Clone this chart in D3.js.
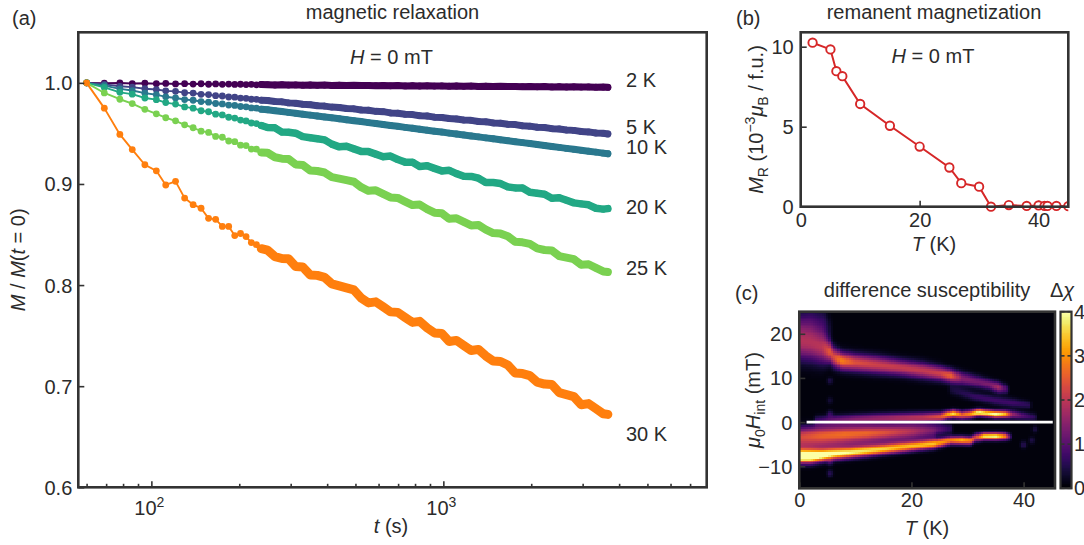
<!DOCTYPE html>
<html><head><meta charset="utf-8">
<script src="https://cdn.jsdelivr.net/npm/d3@7"></script>
<style>
body{margin:0;background:#fff;}
svg{display:block;}
text{white-space:pre;}
</style></head><body>
<svg id="chart" width="1084" height="545"></svg>
<script>
// ---------------- data: panel (a) magnetic relaxation ----------------
const times = [60,69,78,86,95,104,112,121,130,139,148,157,166,175,184,193,202,211,220,229,238,
  250,265,280,295,312,330,350,370,392,415,440,466,494,523,554,587,622,659,698,740,784,830,880,932,988,
  1047,1109,1175,1245,1319,1398,1481,1569,1663,1762,1867,1978,2096,2221,2353,2493,2642,2799,2966,3143,3330,3528,3660];
const m2K = [1.0000,0.9996,0.9999,0.9993,0.9996,0.9991,0.9994,0.9989,0.9992,0.9988,0.9991,0.9986,0.9989,0.9985,0.9988,0.9984,0.9986,0.9983,0.9985,0.9981,0.9984,
  0.9982,0.9979,0.9982,0.9978,0.9980,0.9977,0.9979,0.9976,0.9978,0.9975,0.9977,0.9974,0.9976,0.9973,0.9975,0.9972,0.9974,0.9971,0.9973,0.9970,
  0.9972,0.9969,0.9971,0.9968,0.9970,0.9967,0.9969,0.9966,0.9968,0.9965,0.9967,0.9964,0.9966,0.9963,0.9965,0.9962,0.9964,0.9961,0.9963,0.9960,
  0.9962,0.9959,0.9961,0.9958,0.9960,0.9957,0.9958,0.9956];
const m5K = [1.0000,0.9985,0.9966,0.9958,0.9942,0.9934,0.9921,0.9916,0.9903,0.9899,0.9887,0.9884,0.9873,0.9870,0.9860,0.9858,0.9849,0.9847,0.9838,0.9837,0.9829,
  0.9826,0.9815,0.9812,0.9802,0.9798,0.9788,0.9784,0.9774,0.9770,0.9760,0.9757,0.9746,0.9743,0.9732,0.9729,0.9718,0.9715,0.9703,0.9700,0.9689,
  0.9686,0.9675,0.9672,0.9661,0.9658,0.9647,0.9643,0.9632,0.9629,0.9618,0.9615,0.9604,0.9601,0.9590,0.9587,0.9575,0.9572,0.9561,0.9558,0.9547,
  0.9544,0.9533,0.9530,0.9519,0.9515,0.9504,0.9501,0.9495];
const m10K = [1.0000,0.9972,0.9941,0.9924,0.9898,0.9883,0.9862,0.9850,0.9835,0.9828,0.9815,0.9809,0.9796,0.9792,0.9780,0.9777,0.9766,0.9763,0.9752,0.9750,0.9740,
  0.9734,0.9725,0.9716,0.9708,0.9699,0.9690,0.9681,0.9672,0.9663,0.9654,0.9645,0.9635,0.9626,0.9617,0.9607,0.9598,0.9588,0.9579,0.9570,0.9560,
  0.9551,0.9541,0.9532,0.9522,0.9513,0.9503,0.9494,0.9485,0.9475,0.9466,0.9456,0.9447,0.9437,0.9428,0.9418,0.9409,0.9400,0.9390,0.9381,0.9371,
  0.9362,0.9352,0.9343,0.9333,0.9324,0.9315,0.9305,0.9299];
const m20K = [1.0000,0.9955,0.9906,0.9888,0.9850,0.9834,0.9805,0.9790,0.9762,0.9750,0.9724,0.9714,0.9690,0.9683,0.9660,0.9652,0.9632,0.9623,0.9603,0.9597,0.9578,
  0.9558,0.9555,0.9513,0.9512,0.9502,0.9468,0.9457,0.9447,0.9436,0.9394,0.9367,0.9373,0.9347,0.9322,0.9320,0.9295,0.9269,0.9276,0.9242,0.9216,
  0.9215,0.9173,0.9180,0.9154,0.9129,0.9135,0.9102,0.9076,0.9075,0.9057,0.9015,0.9014,0.9004,0.8971,0.8961,0.8960,0.8918,0.8909,0.8899,0.8858,
  0.8864,0.8839,0.8813,0.8803,0.8794,0.8760,0.8751,0.8756];
const m25K = [1.0000,0.9900,0.9838,0.9795,0.9738,0.9694,0.9655,0.9624,0.9585,0.9556,0.9522,0.9510,0.9470,0.9462,0.9425,0.9418,0.9384,0.9380,0.9345,0.9344,0.9312,
  0.9309,0.9264,0.9250,0.9247,0.9193,0.9188,0.9133,0.9128,0.9113,0.9068,0.9053,0.9038,0.9022,0.8968,0.8932,0.8937,0.8902,0.8867,0.8862,0.8826,
  0.8791,0.8796,0.8751,0.8716,0.8710,0.8655,0.8660,0.8625,0.8590,0.8594,0.8549,0.8514,0.8509,0.8483,0.8428,0.8423,0.8408,0.8363,0.8347,0.8342,
  0.8287,0.8271,0.8256,0.8201,0.8206,0.8170,0.8135,0.8129];
const m30K = [1.000,0.975,0.949,0.934,0.919,0.913,0.899,0.9026,0.886,0.8795,0.876,0.866,0.865,0.858,0.858,0.849,0.851,0.848,0.842,0.840,0.836,
  0.8345,0.8281,0.8263,0.8261,0.8183,0.8179,0.8099,0.8096,0.8076,0.8012,0.7992,0.7972,0.7952,0.7873,0.7824,0.7834,0.7785,0.7735,0.7730,0.7680,
  0.7631,0.7641,0.7577,0.7527,0.7522,0.7442,0.7453,0.7403,0.7353,0.7364,0.7299,0.7249,0.7244,0.7209,0.7130,0.7125,0.7105,0.7041,0.7021,0.7016,
  0.6937,0.6917,0.6897,0.6817,0.6828,0.6778,0.6728,0.6721];
const seriesNames = ["2 K","5 K","10 K","20 K","25 K","30 K"];
const seriesColors = ["#440154","#414487","#2a788e","#22a884","#7ad151","#ff7f0e"];
const yTicksA = [0.6,0.7,0.8,0.9,1.0];
const xMajorA = [100,1000];
const xMinorA = [60,70,80,90,200,300,400,500,600,700,800,900,2000,3000,4000,5000,6000,7000];

// ---------------- data: panel (b) remanent magnetization ----------------
const mrT = [2,5,6,7,10,15,20,25,27,30,32,35,38,40,41,41.5,43,45];
const mrV = [10.25,9.83,8.47,8.16,6.42,5.06,3.76,2.45,1.47,1.25,0.0,0.1,0.05,0.08,0.05,0.05,0.05,0.03];
const xTicksB = [0,20,40];
const yTicksB = [0,5,10];

const hazeT = [0,2,4.5,5.5], hazeH = [22,22.5,22,21], hazeA = [0.7,0.7,0.6,0.25], hazeW = [2.5,2.5,2.5,2];
const upT = [0,2,4,5.5,6,7.5,10,14,18,22,25,27,29,32,34,35.5,37];
const upH = [18,17.8,17,16,15,14,13.6,13.1,12.5,11.8,11.2,10.6,10,9.2,8.6,8,7.6];
const upA = [1.6,1.7,1.8,2.4,2.2,2.8,2.3,2.1,2.0,2.0,2.1,2.5,1.4,1.2,1.3,1.7,0.7];
const upW = [2.6,2.6,2.4,1.6,1.5,1.3,1.3,1.3,1.2,1.2,1.1,1.0,1.0,0.9,0.8,0.8,0.7];
const faintT = [27,31,35,38,41], faintH = [7.5,6,5,4.5,4], faintA = [0.3,0.6,0.7,0.7,0.5], faintW = [0.8,0.7,0.7,0.7,0.6];
const zeroT = [3,6,10,14,18,22,25,26.5,27.5,29,30.5,32,33.5,35,36.5,38,40,42];
const zeroH = [0.3,0.5,0.7,0.9,1.0,1.1,1.3,1.8,2.0,1.7,1.9,2.3,2.1,1.9,1.9,1.8,1.5,1.2];
const zeroA = [0.6,1.0,1.3,1.5,1.7,1.9,2.3,3.2,3.6,2.6,3.0,3.9,3.6,4.0,3.5,1.6,0.9,0.5];
const zeroW = [0.8,0.8,0.8,0.8,0.8,0.8,0.7,0.6,0.6,0.6,0.6,0.55,0.55,0.55,0.55,0.6,0.6,0.6];
const negT = [0,4,8,12,16,20,24,27], negH = [-2.8,-2.6,-2.4,-2.2,-2.0,-1.8,-1.6,-1.4];
const negA = [1.6,2.0,2.2,2.2,2.0,1.7,1.2,0.5], negW = [1.3,1.3,1.2,1.1,1.0,1.0,0.9,0.8];
const midT = [0,8,16,24], midH = [-5,-4.6,-4,-3.4], midA = [1.3,1.1,0.8,0.4], midW = [1.6,1.5,1.3,1.0];
const lowT = [0,2,4,6,9,12,15,18,21,24,25.5,27,29,30.5,31.5,33,35,36.5,37.5];
const lowH = [-7.6,-7.6,-7.4,-7.1,-6.8,-6.4,-6.0,-5.6,-5.2,-4.8,-4.4,-4.0,-4.0,-4.1,-3.4,-3.1,-3.1,-3.1,-3.2];
const lowA = [4.8,4.8,4.3,3.8,3.5,3.3,3.2,3.1,3.1,3.2,3.0,2.8,3.2,2.8,2.2,3.6,3.8,3.0,1.2];
const lowW = [1.0,1.0,0.9,0.85,0.8,0.8,0.75,0.75,0.7,0.7,0.65,0.6,0.6,0.6,0.6,0.55,0.55,0.55,0.5];
const dotT = [5.5,5.5,5.5,5.5,5.5,40,41.5,42];
const dotH = [9.5,5,2,-9,-11.5,-5,-4,-1.5];
const dotA = [0.4,0.3,0.5,0.5,0.5,0.5,0.4,0.4];
const xTicksC = [0,20,40];
const yTicksC = [-10,0,10,20];
const cbTicks = [0,1,2,3,4];

// ---------------- drawing ----------------
const FONT = '"Liberation Sans", Arial, Helvetica, sans-serif';
const INK = "#2b2b2b", FRAME = "#333333", FS = 20;
const svg = d3.select("#chart").attr("font-family", FONT);
const defs = svg.append("defs");

function rich(parent, parts, attrs) {
  const t = parent.append("text").attr("font-size", FS).attr("fill", INK);
  Object.entries(attrs || {}).forEach(([k, v]) => t.attr(k, v));
  let cur = 0;
  parts.forEach(p => {
    const s = typeof p === "string" ? {t: p} : p;
    const target = s.sub ? 5 : (s.sup ? -8 : 0);
    const ts = t.append("tspan").text(s.t);
    if (target - cur !== 0) ts.attr("dy", target - cur);
    cur = target;
    if (s.it) ts.attr("font-style", "italic");
    if (s.sub || s.sup) ts.attr("font-size", 14);
  });
  return t;
}
function styleAxis(g) {
  g.select(".domain").remove();
  g.attr("font-family", FONT).attr("font-size", FS);
  g.selectAll(".tick line").attr("stroke", FRAME).attr("stroke-width", 1.6);
  g.selectAll(".tick text").attr("fill", INK);
}

// ===== Panel (a) =====
const A = {l: 78.3, r: 706.7, t: 32.3, b: 487.3};
const xA = d3.scaleLog().domain([56.2, 7980]).range([A.l, A.r]);
const yA = d3.scaleLinear().domain([0.6, 1.05]).range([A.b, A.t]);
defs.append("clipPath").attr("id", "clipA").append("rect")
  .attr("x", A.l).attr("y", A.t).attr("width", A.r - A.l).attr("height", A.b - A.t);

const seriesVals = [m2K, m5K, m10K, m20K, m25K, m30K];
const bandWidth = [7, 7, 7, 7.5, 8, 9];
const gSeries = svg.append("g").attr("clip-path", "url(#clipA)");
const R = 3.4;
seriesVals.forEach((vals, i) => {
  const n = Math.min(vals.length, times.length);
  const pts = d3.range(n).map(j => [xA(times[j]), yA(vals[j])]);
  const col = seriesColors[i];
  const line = d3.line();
  gSeries.append("path").attr("d", line(pts)).attr("fill", "none")
    .attr("stroke", col).attr("stroke-width", 1.9).attr("stroke-linejoin", "round");
  gSeries.append("path").attr("d", line(pts.slice(20))).attr("fill", "none")
    .attr("stroke", col).attr("stroke-width", bandWidth[i]).attr("stroke-linejoin", "round").attr("stroke-linecap", "round");
  gSeries.append("g").selectAll("circle").data(pts).join("circle")
    .attr("cx", d => d[0]).attr("cy", d => d[1]).attr("r", R).attr("fill", col);
});

svg.append("g").attr("transform", `translate(${A.l},0)`)
  .call(d3.axisLeft(yA).tickValues(yTicksA).tickFormat(d3.format(".1f")).tickSizeInner(-6).tickSizeOuter(0).tickPadding(6))
  .call(styleAxis)
  .selectAll(".tick text").attr("dy", "0.35em");
svg.append("g").attr("transform", `translate(0,${A.b})`)
  .call(d3.axisBottom(xA).tickValues(xMajorA).tickFormat("").tickSizeInner(-6).tickSizeOuter(0))
  .call(styleAxis);
svg.append("g").attr("transform", `translate(0,${A.b})`)
  .call(d3.axisBottom(xA).tickValues(xMinorA).tickFormat("").tickSizeInner(-3.5).tickSizeOuter(0))
  .call(styleAxis);
xMajorA.forEach(v => {
  rich(svg, ["10", {t: String(Math.round(Math.log10(v))), sup: true}],
    {x: xA(v) - 2, y: A.b + 28, "text-anchor": "middle"});
});
svg.append("rect").attr("x", A.l).attr("y", A.t).attr("width", A.r - A.l).attr("height", A.b - A.t)
  .attr("fill", "none").attr("stroke", FRAME).attr("stroke-width", 2.6);

const labelYA = [87, 134, 154, 214, 275, 441];
seriesNames.forEach((s, i) => {
  rich(svg, [s], {x: 626, y: labelYA[i]});
});
rich(svg, ["(a)"], {x: 12, y: 25});
rich(svg, ["magnetic relaxation"], {x: 392.5, y: 18.5, "text-anchor": "middle"});
rich(svg, [{t: "H", it: true}, " = 0 mT"], {x: 391.5, y: 64, "text-anchor": "middle"});
rich(svg, [{t: "t", it: true}, " (s)"], {x: 391, y: 533, "text-anchor": "middle"});
rich(svg, [{t: "M", it: true}, " / ", {t: "M", it: true}, "(", {t: "t", it: true}, " = 0)"],
  {transform: `translate(25,${(A.t + A.b) / 2}) rotate(-90)`, "text-anchor": "middle"});

// ===== Panel (b) =====
const B = {l: 800.7, r: 1068.3, t: 32.3, b: 206.7};
const xB = d3.scaleLinear().domain([0, 45]).range([B.l, B.r]);
const yB = d3.scaleLinear().domain([0, 10.9]).range([B.b, B.t]);
defs.append("clipPath").attr("id", "clipB").append("rect")
  .attr("x", B.l).attr("y", B.t - 6).attr("width", B.r - B.l).attr("height", B.b - B.t + 12);
svg.append("g").attr("transform", `translate(${B.l},0)`)
  .call(d3.axisLeft(yB).tickValues(yTicksB).tickSizeInner(-6).tickSizeOuter(0).tickPadding(7))
  .call(styleAxis)
  .selectAll(".tick text").attr("dy", "0.35em");
svg.append("g").attr("transform", `translate(0,${B.b})`)
  .call(d3.axisBottom(xB).tickValues(xTicksB).tickSizeInner(-6).tickSizeOuter(0).tickPadding(6))
  .call(styleAxis);
const RED = "#d62728";
const gB = svg.append("g").attr("clip-path", "url(#clipB)");
const ptsB = d3.range(Math.min(mrT.length, mrV.length)).map(j => [xB(mrT[j]), yB(mrV[j])]);
gB.append("path").attr("d", d3.line()(ptsB)).attr("fill", "none").attr("stroke", RED).attr("stroke-width", 2);
gB.selectAll("circle").data(ptsB).join("circle")
  .attr("cx", d => d[0]).attr("cy", d => d[1]).attr("r", 4.2)
  .attr("fill", "#fff").attr("stroke", RED).attr("stroke-width", 1.9);
svg.append("rect").attr("x", B.l).attr("y", B.t).attr("width", B.r - B.l).attr("height", B.b - B.t)
  .attr("fill", "none").attr("stroke", FRAME).attr("stroke-width", 2.6);
rich(svg, ["(b)"], {x: 736, y: 24.5});
rich(svg, ["remanent magnetization"], {x: 934, y: 18.5, "text-anchor": "middle"});
rich(svg, [{t: "H", it: true}, " = 0 mT"], {x: 933, y: 63, "text-anchor": "middle"});
rich(svg, [{t: "T", it: true}, " (K)"], {x: 934, y: 251, "text-anchor": "middle"});
rich(svg, [{t: "M", it: true}, {t: "R", sub: true}, " (10", {t: "−3", sup: true}, {t: "μ", it: true}, {t: "B", sub: true}, " / f.u.)"],
  {transform: `translate(763,${(B.t + B.b) / 2}) rotate(-90)`, "text-anchor": "middle"});

// ===== Panel (c) =====
const C = {l: 799.3, r: 1055, t: 311.7, b: 488.3};
const xC = d3.scaleLinear().domain([0, 45.6]).range([C.l, C.r]);
const yC = d3.scaleLinear().domain([-15, 25]).range([C.b, C.t]);
defs.append("clipPath").attr("id", "clipC").append("rect")
  .attr("x", C.l).attr("y", C.t).attr("width", C.r - C.l).attr("height", C.b - C.t);

const ridges = [
  {T: hazeT, H: hazeH, A: hazeA, W: hazeW},
  {T: upT, H: upH, A: upA, W: upW},
  {T: faintT, H: faintH, A: faintA, W: faintW},
  {T: zeroT, H: zeroH, A: zeroA, W: zeroW},
  {T: negT, H: negH, A: negA, W: negW},
  {T: midT, H: midH, A: midA, W: midW},
  {T: lowT, H: lowH, A: lowA, W: lowW}
];
function ridgeAt(r, T) {
  const n = r.T.length;
  if (T < r.T[0] - 0.8 || T > r.T[n - 1] + 0.8) return null;
  if (T <= r.T[0]) {
    const f = Math.exp(-Math.pow((r.T[0] - T) / 0.35, 2));
    return {h: r.H[0], a: r.A[0] * f, w: r.W[0]};
  }
  if (T >= r.T[n - 1]) {
    const f = Math.exp(-Math.pow((T - r.T[n - 1]) / 0.35, 2));
    return {h: r.H[n - 1], a: r.A[n - 1] * f, w: r.W[n - 1]};
  }
  let i = 0;
  while (i < n - 2 && T > r.T[i + 1]) i++;
  const f = (T - r.T[i]) / (r.T[i + 1] - r.T[i]);
  const L = (arr) => arr[i] + (arr[i + 1] - arr[i]) * f;
  return {h: L(r.H), a: L(r.A), w: L(r.W)};
}
function chi(T, H) {
  let v = 0.08;
  ridges.forEach(r => {
    const p = ridgeAt(r, T);
    if (p) v += p.a * Math.exp(-0.5 * Math.pow((H - p.h) / p.w, 2));
  });
  dotT.forEach((t0, k) => {
    v += dotA[k] * Math.exp(-0.5 * (Math.pow((T - t0) / 0.35, 2) + Math.pow((H - dotH[k]) / 0.55, 2)));
  });
  return Math.min(4, v);
}
const step = 0.4;
const cells = [];
d3.range(0, 45.6, step).forEach(T => {
  d3.range(-15, 25, step).forEach(H => cells.push({T, H, v: chi(T + step / 2, H + step / 2)}));
});
const color = d3.scaleSequential(d3.interpolateInferno).domain([0, 4]);
svg.append("g").attr("clip-path", "url(#clipC)").attr("shape-rendering", "crispEdges")
  .selectAll("rect").data(cells).join("rect")
  .attr("x", d => xC(d.T)).attr("y", d => yC(d.H + step))
  .attr("width", d => xC(d.T + step) - xC(d.T) + 0.6)
  .attr("height", d => yC(d.H) - yC(d.H + step) + 0.6)
  .attr("fill", d => color(d.v));
svg.append("line").attr("x1", xC(1.3)).attr("x2", xC(45.2)).attr("y1", yC(0)).attr("y2", yC(0))
  .attr("stroke", "#fff").attr("stroke-width", 2.6);
svg.append("g").attr("transform", `translate(${C.l},0)`)
  .call(d3.axisLeft(yC).tickValues(yTicksC).tickFormat(d => d < 0 ? "−" + Math.abs(d) : d).tickSizeInner(-6).tickSizeOuter(0).tickPadding(7))
  .call(styleAxis)
  .selectAll(".tick text").attr("dy", "0.35em");
svg.append("g").attr("transform", `translate(0,${C.b})`)
  .call(d3.axisBottom(xC).tickValues(xTicksC).tickSizeInner(-6).tickSizeOuter(0).tickPadding(5))
  .call(styleAxis);
svg.append("rect").attr("x", C.l).attr("y", C.t).attr("width", C.r - C.l).attr("height", C.b - C.t)
  .attr("fill", "none").attr("stroke", FRAME).attr("stroke-width", 2.6);

// colorbar
const CB = {l: 1060.5, r: 1071.5};
const yCB = d3.scaleLinear().domain([0, 4]).range([C.b, C.t]);
const cbSteps = d3.range(0, 4, 0.02);
svg.append("g").attr("shape-rendering", "crispEdges").selectAll("rect").data(cbSteps).join("rect")
  .attr("x", CB.l).attr("width", CB.r - CB.l)
  .attr("y", d => yCB(d + 0.02)).attr("height", d => yCB(d) - yCB(d + 0.02) + 0.5)
  .attr("fill", d => color(d + 0.01));
const gCB = svg.append("g");
cbTicks.forEach(v => {
  gCB.append("line").attr("x1", CB.r - 4).attr("x2", CB.r).attr("y1", yCB(v)).attr("y2", yCB(v))
    .attr("stroke", FRAME).attr("stroke-width", 1.6);
  gCB.append("line").attr("x1", CB.l).attr("x2", CB.l + 4).attr("y1", yCB(v)).attr("y2", yCB(v))
    .attr("stroke", FRAME).attr("stroke-width", 1.6);
  rich(svg, [String(v)], {x: CB.r + 2.5, y: yCB(v), dy: "0.35em"});
});
svg.append("rect").attr("x", CB.l).attr("y", C.t).attr("width", CB.r - CB.l).attr("height", C.b - C.t)
  .attr("fill", "none").attr("stroke", FRAME).attr("stroke-width", 2.2);

rich(svg, ["(c)"], {x: 735, y: 300});
rich(svg, ["difference susceptibility"], {x: 927, y: 297, "text-anchor": "middle"});
rich(svg, ["Δ", {t: "χ", it: true}], {x: 1050, y: 297});
rich(svg, [{t: "T", it: true}, " (K)"], {x: 927, y: 535, "text-anchor": "middle"});
rich(svg, [{t: "μ", it: true}, {t: "0", sub: true}, {t: "H", it: true}, {t: "int", sub: true}, " (mT)"],
  {transform: `translate(760,400) rotate(-90)`, "text-anchor": "middle"});
</script>
</body></html>
